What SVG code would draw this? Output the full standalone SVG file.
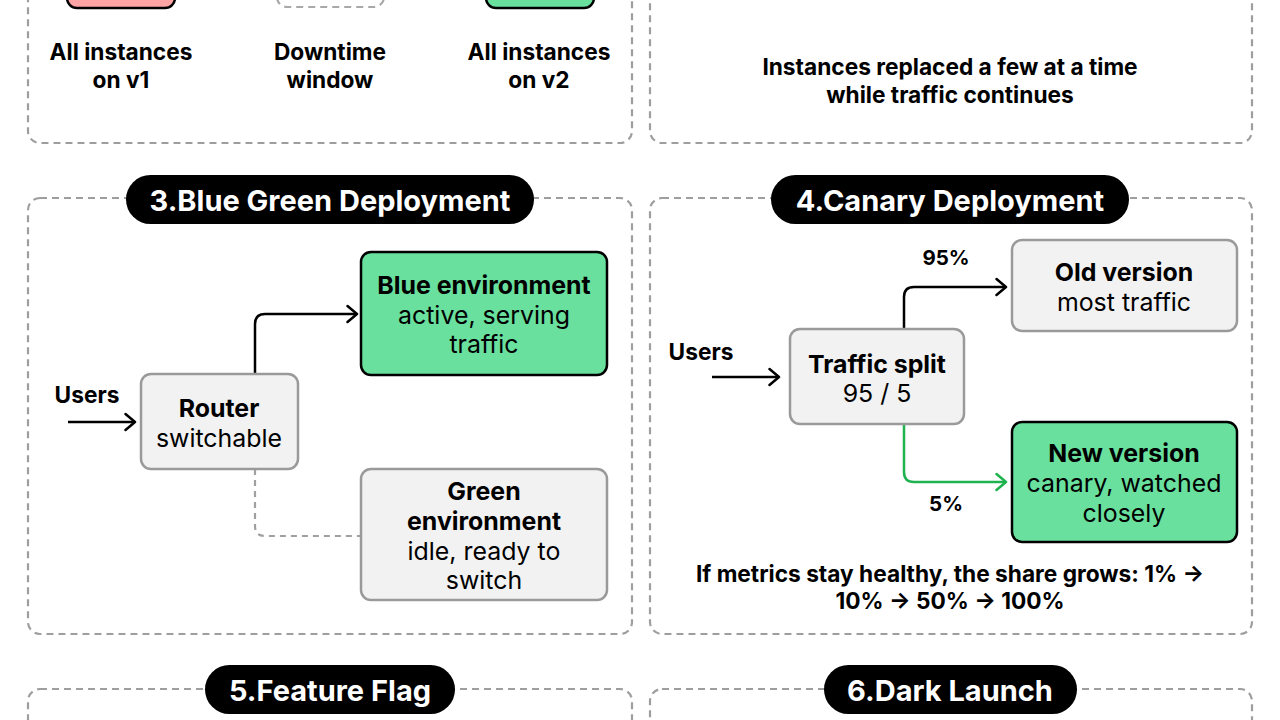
<svg xmlns="http://www.w3.org/2000/svg" width="1280" height="720" viewBox="0 0 1280 720">
<defs>
<style>
text{font-family:Inter,"Noto Sans","Liberation Sans",sans-serif;fill:#000;text-anchor:middle;dominant-baseline:central}
.panel{fill:none;stroke:#9e9e9e;stroke-width:2.2;stroke-dasharray:7 5}
.pill{fill:#000}
.pt{fill:#fff;font-weight:700;font-size:29px}
.lbl{font-weight:700;font-size:22.7px}
.el{font-weight:700;font-size:20.5px}
.b{font-weight:700;font-size:24.9px}
.r{font-weight:400;font-size:24.9px}
.gray{fill:#f2f2f2;stroke:#9a9a9a;stroke-width:2.5}
.green{fill:#69e09e;stroke:#000;stroke-width:2.5}
.pink{fill:#ffa4a4;stroke:#000;stroke-width:2.5}
.ghost{fill:none;stroke:#a8a8a8;stroke-width:2.2;stroke-dasharray:7 5}
.ln{fill:none;stroke:#000;stroke-width:2.5}
.lg{fill:none;stroke:#1fb24f;stroke-width:2.5}
.ld{fill:none;stroke:#a0a0a0;stroke-width:2.2;stroke-dasharray:6 5}
</style>
<marker id="ab" viewBox="0 0 13 20" refX="11.5" refY="10" markerWidth="13" markerHeight="20" markerUnits="userSpaceOnUse" orient="auto">
<path d="M2,2 L11.5,10 L2,18" fill="none" stroke="#000" stroke-width="2.5" stroke-linecap="round" stroke-linejoin="round"/>
</marker>
<marker id="ag" viewBox="0 0 13 20" refX="11.5" refY="10" markerWidth="13" markerHeight="20" markerUnits="userSpaceOnUse" orient="auto">
<path d="M2,2 L11.5,10 L2,18" fill="none" stroke="#1fb24f" stroke-width="2.5" stroke-linecap="round" stroke-linejoin="round"/>
</marker>
</defs>
<rect width="1280" height="720" fill="#fff"/>

<g id="panel-1">
<rect class="panel" x="28" y="-120" width="604" height="263" rx="12"/>
<g id="node-v1"><rect class="pink" x="67" y="-40" width="108" height="48" rx="10"/></g>
<g id="node-downtime"><rect class="ghost" x="277" y="-40" width="107" height="47" rx="10"/></g>
<g id="node-v2"><rect class="green" x="486" y="-40" width="108" height="48" rx="10"/></g>
<text class="lbl" x="121" y="51">All instances</text>
<text class="lbl" x="121" y="79">on v1</text>
<text class="lbl" x="330" y="51">Downtime</text>
<text class="lbl" x="330" y="79">window</text>
<text class="lbl" x="539" y="51">All instances</text>
<text class="lbl" x="539" y="79">on v2</text>
</g>

<g id="panel-2">
<rect class="panel" x="650" y="-120" width="602" height="263" rx="12"/>
<text class="lbl" x="950" y="66">Instances replaced a few at a time</text>
<text class="lbl" x="950" y="94">while traffic continues</text>
</g>

<g id="panel-3">
<rect class="panel" x="28" y="198" width="604" height="436" rx="12"/>
<rect class="pill" x="126" y="175" width="408" height="49" rx="24.5"/>
<text class="pt" x="330" y="200">3.Blue Green Deployment</text>
<text class="lbl" x="87" y="394">Users</text>
</g>

<g id="panel-4">
<rect class="panel" x="650" y="198" width="602" height="436" rx="12"/>
<rect class="pill" x="771" y="175" width="358" height="49" rx="24.5"/>
<text class="pt" x="950" y="200">4.Canary Deployment</text>
<text class="lbl" x="701" y="351">Users</text>
<text class="el" x="946" y="257">95%</text>
<text class="el" x="946" y="503">5%</text>
<text class="lbl" x="950" y="573">If metrics stay healthy, the share grows: 1% →</text>
<text class="lbl" x="950" y="600">10% → 50% → 100%</text>
</g>

<g id="panel-5">
<rect class="panel" x="28" y="689" width="604" height="200" rx="12"/>
<rect class="pill" x="205" y="665" width="250" height="49" rx="24.5"/>
<text class="pt" x="330" y="690">5.Feature Flag</text>
</g>

<g id="panel-6">
<rect class="panel" x="650" y="689" width="602" height="200" rx="12"/>
<rect class="pill" x="824" y="665" width="253" height="49" rx="24.5"/>
<text class="pt" x="950" y="690">6.Dark Launch</text>
</g>

<g id="connectors">
<path class="ln" d="M68,422 H135" marker-end="url(#ab)"/>
<path class="ln" d="M255,374 V324 Q255,314 265,314 H357" marker-end="url(#ab)"/>
<path class="ld" d="M255,469 V526 Q255,536 265,536 H361"/>
<path class="ln" d="M712,377 H779" marker-end="url(#ab)"/>
<path class="ln" d="M904,329 V297 Q904,287 914,287 H1006" marker-end="url(#ab)"/>
<path class="lg" d="M904,424 V472 Q904,482 914,482 H1006" marker-end="url(#ag)"/>
</g>

<g id="node-router">
<rect class="gray" x="141" y="374" width="157" height="95" rx="10"/>
<text class="b" x="219" y="408">Router</text>
<text class="r" x="219" y="438">switchable</text>
</g>
<g id="node-blue-env">
<rect class="green" x="361" y="252" width="246" height="123" rx="10"/>
<text class="b" x="484" y="285">Blue environment</text>
<text class="r" x="484" y="315">active, serving</text>
<text class="r" x="484" y="344">traffic</text>
</g>
<g id="node-green-env">
<rect class="gray" x="361" y="469" width="246" height="131" rx="10"/>
<text class="b" x="484" y="491">Green</text>
<text class="b" x="484" y="521">environment</text>
<text class="r" x="484" y="551">idle, ready to</text>
<text class="r" x="484" y="580">switch</text>
</g>
<g id="node-traffic-split">
<rect class="gray" x="790" y="329" width="174" height="95" rx="10"/>
<text class="b" x="877" y="364">Traffic split</text>
<text class="r" x="877" y="393">95 / 5</text>
</g>
<g id="node-old-version">
<rect class="gray" x="1012" y="240" width="225" height="91" rx="10"/>
<text class="b" x="1124" y="272">Old version</text>
<text class="r" x="1124" y="302">most traffic</text>
</g>
<g id="node-new-version">
<rect class="green" x="1012" y="422" width="225" height="120" rx="10"/>
<text class="b" x="1124" y="453">New version</text>
<text class="r" x="1124" y="483">canary, watched</text>
<text class="r" x="1124" y="513">closely</text>
</g>
</svg>
